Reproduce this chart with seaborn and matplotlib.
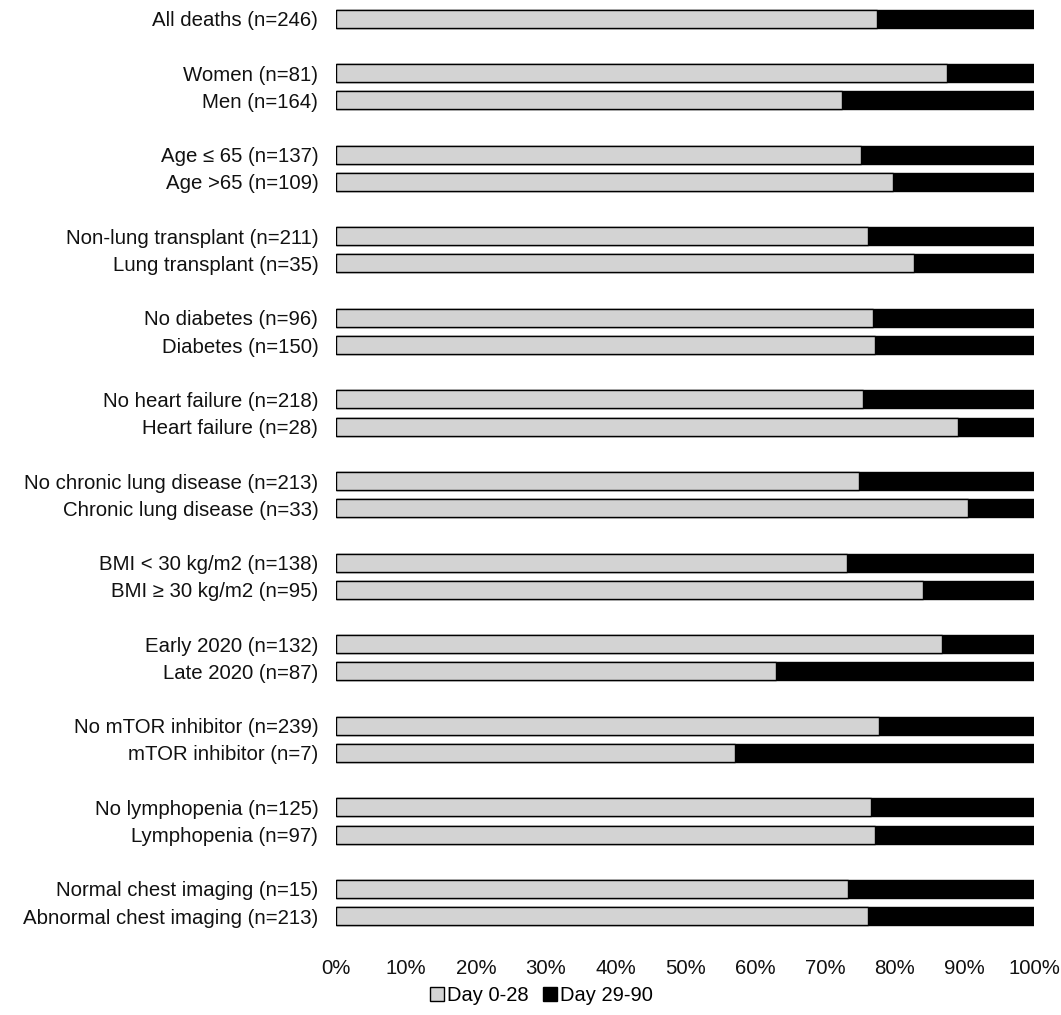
import matplotlib
matplotlib.use("Agg")
import matplotlib.pyplot as plt
import seaborn as sns
import numpy as np
import pandas as pd
from matplotlib.patches import Patch
from matplotlib.ticker import PercentFormatter

groups = [
    ["All deaths (n=246)"],
    ["Women (n=81)", "Men (n=164)"],
    ["Age \u2264 65 (n=137)", "Age >65 (n=109)"],
    ["Non-lung transplant (n=211)", "Lung transplant (n=35)"],
    ["No diabetes (n=96)", "Diabetes (n=150)"],
    ["No heart failure (n=218)", "Heart failure (n=28)"],
    ["No chronic lung disease (n=213)", "Chronic lung disease (n=33)"],
    ["BMI < 30 kg/m2 (n=138)", "BMI \u2265 30 kg/m2 (n=95)"],
    ["Early 2020 (n=132)", "Late 2020 (n=87)"],
    ["No mTOR inhibitor (n=239)", "mTOR inhibitor (n=7)"],
    ["No lymphopenia (n=125)", "Lymphopenia (n=97)"],
    ["Normal chest imaging (n=15)", "Abnormal chest imaging (n=213)"],
]
early_pct = [
    [77.4],
    [87.5, 72.5],
    [75.1, 79.8],
    [76.1, 82.7],
    [76.8, 77.1],
    [75.5, 89.1],
    [74.9, 90.5],
    [73.1, 84.1],
    [86.8, 63.0],
    [77.7, 57.1],
    [76.6, 77.1],
    [73.3, 76.2],
]

# build row order with blank spacer rows between groups
rows, early, total = [], [], []
for i, (g, v) in enumerate(zip(groups, early_pct)):
    if i > 0:
        rows.append(" " * i)
        early.append(np.nan)
        total.append(np.nan)
    rows += g
    early += v
    total += [100] * len(g)

df = pd.DataFrame({"label": rows, "early": early, "total": total})

plt.rcParams["font.family"] = ["Liberation Sans", "DejaVu Sans"]
fig, ax = plt.subplots(figsize=(10.61, 10.15), dpi=100)
fig.subplots_adjust(left=0.317, right=0.975, top=0.995, bottom=0.084)

sns.barplot(data=df, y="label", x="total", order=rows, color="black",
            edgecolor="black", linewidth=1, width=0.66, ax=ax)
sns.barplot(data=df, y="label", x="early", order=rows, color="#d3d3d3",
            edgecolor="black", linewidth=1, width=0.66, ax=ax, saturation=1)

ax.set_xlim(0, 100)
ax.set_xticks(range(0, 101, 10))
ax.xaxis.set_major_formatter(PercentFormatter(decimals=0))
ax.set_xlabel("")
ax.set_ylabel("")
ax.tick_params(axis="both", length=0, labelsize=14.7, colors="#111111")
ax.tick_params(axis="y", pad=13)
ax.tick_params(axis="x", pad=21)
for s in ax.spines.values():
    s.set_visible(False)

handles = [Patch(facecolor="#d3d3d3", edgecolor="black", label="Day 0-28"),
           Patch(facecolor="black", edgecolor="black", label="Day 29-90")]
fig.legend(handles=handles, loc="lower center", ncol=2, frameon=False,
           bbox_to_anchor=(0.51, -0.008), fontsize=14.5, handlelength=0.7,
           handleheight=0.7, handletextpad=0.15, columnspacing=0.7)

fig.savefig("out.png", dpi=100)
